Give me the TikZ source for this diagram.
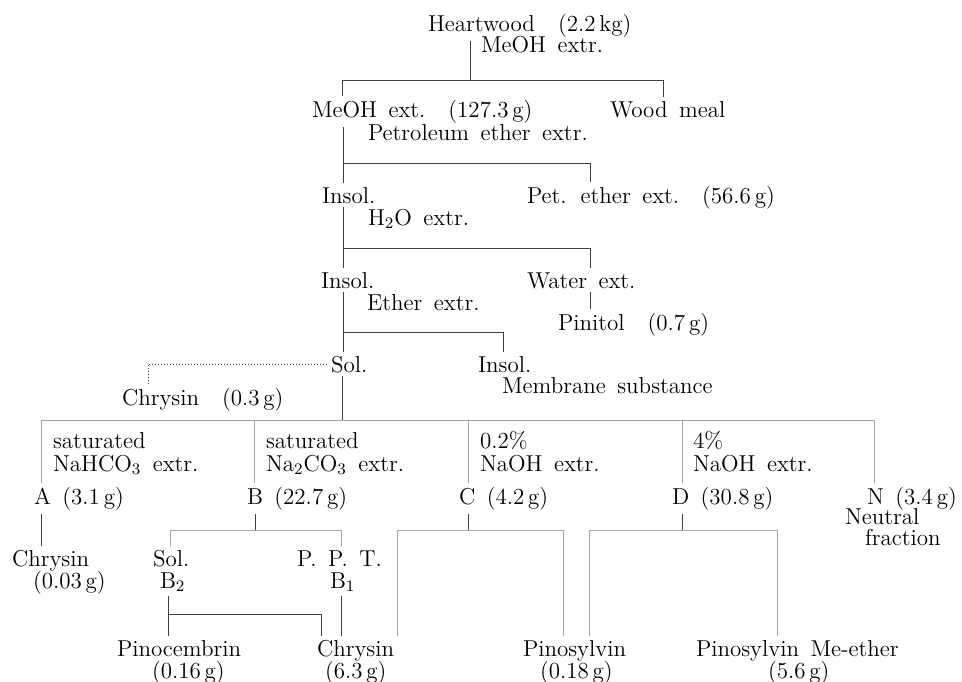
\documentclass[tikz,border=0pt]{standalone}
\newcommand{\txtfont}{\fontsize{11.5}{13}\selectfont\spaceskip=0.5em plus 0.1em\relax}
\begin{document}
\begin{tikzpicture}[x=0.5pt,y=-0.5pt,
  txt/.style={inner sep=0pt,outer sep=2pt,anchor=base west,xshift=-2pt,font=\txtfont},
  ln/.style={gray!50!black,line width=0.5pt},
  faint/.style={gray!70,line width=0.5pt}]
\useasboundingbox (0,0) rectangle (962,681);
% extraction steps
\node[txt] (heart) at (428,31) {Heartwood\enspace\ (2.2\,kg)};
\node[txt] (lmeoh) at (481,52) {MeOH extr.};
\node[txt] (meoh) at (312,117) {MeOH ext.\quad(127.3\,g)};
\node[txt] (wood) at (610,117) {Wood meal};
\node[txt] (lpet) at (368,140) {Petroleum ether extr.};
\node[txt] (insa) at (322,203) {Insol.};
\node[txt] (pet) at (527,203) {Pet. ether ext.\quad(56.6\,g)};
\node[txt] (lwat) at (368,225) {H$_2$O extr.};
\node[txt] (insb) at (321,288) {Insol.};
\node[txt] (wat) at (527,288) {Water ext.};
\node[txt] (leth) at (367,310) {Ether extr.};
\node[txt] (pin) at (558,330) {Pinitol\quad(0.7\,g)};
\node[txt] (sol) at (331,372) {Sol.};
\node[txt] (insc) at (478,372) {Insol.};
\node[txt] (memb) at (502,393) {Membrane substance};
\node[txt] (chra) at (122,405) {Chrysin\quad(0.3\,g)};
% fractions
\node[txt] (la1) at (53,448) {saturated};
\node[txt] (la2) at (53,471) {NaHCO$_3$ extr.};
\node[txt] (fa) at (34,504) {A\enspace(3.1\,g)};
\node[txt] (lb1) at (266,448) {saturated};
\node[txt] (lb2) at (266,471) {Na$_2$CO$_3$ extr.};
\node[txt] (fb) at (247,504) {B\enspace(22.7\,g)};
\node[txt] (lc1) at (480,448) {0.2\%};
\node[txt] (lc2) at (480,471) {NaOH extr.};
\node[txt] (fc) at (459,504) {C\enspace(4.2\,g)};
\node[txt] (ld1) at (693,448) {4\%};
\node[txt] (ld2) at (693,471) {NaOH extr.};
\node[txt] (fd) at (672,504) {D\enspace(30.8\,g)};
\node[txt] (fn) at (867,504) {N\enspace(3.4\,g)};
\node[txt] (neu1) at (845,524) {Neutral};
\node[txt] (neu2) at (865,545) {fraction};
% products
\node[txt] (chrb) at (12,566) {Chrysin};
\node[txt] (chrbw) at (33,588) {(0.03\,g)};
\node[txt] (solb) at (153,566) {Sol.};
\node[txt] (btwo) at (160,588) {B$_2$};
\node[txt] (ppt) at (297,566) {P. P. T.};
\node[txt] (bone) at (330,588) {B$_1$};
\node[txt] (pinoc) at (117,656) {Pinocembrin};
\node[txt] (pinocw) at (152,678) {(0.16\,g)};
\node[txt] (chrc) at (317,656) {Chrysin};
\node[txt] (chrcw) at (325,678) {(6.3\,g)};
\node[txt] (pino) at (523,656) {Pinosylvin};
\node[txt] (pinow) at (540,678) {(0.18\,g)};
\node[txt] (pme) at (696,656) {Pinosylvin Me-ether};
\node[txt] (pmew) at (768,678) {(5.6\,g)};
% junctions
\coordinate (j1) at (470,80); \coordinate (j1l) at (342,80); \coordinate (j1r) at (663,80);
\coordinate (j2) at (343,163); \coordinate (j2r) at (590,163);
\coordinate (j3) at (343,248); \coordinate (j3r) at (590,248);
\coordinate (j4) at (343,332); \coordinate (j4r) at (503,332);
\coordinate (dc) at (148,364);
\coordinate (j5) at (342,420);
\coordinate (jb) at (255,530); \coordinate (jbl) at (170,530); \coordinate (jbr) at (341,530);
\coordinate (jp) at (168,614); \coordinate (jq) at (321,614);
\coordinate (jc) at (468,530); \coordinate (jcl) at (397,530); \coordinate (jcr) at (563,530);
\coordinate (jd) at (682,530); \coordinate (jdl) at (589,530); \coordinate (jdr) at (777,530);
% upper tree
\draw[ln] (heart.south -| j1) -- (j1);
\draw[ln] (j1l |- meoh.north) -- (j1l) -- (j1r) -- (j1r |- wood.north);
\draw[ln] (meoh.south -| j2) -- (insa.north -| j2);
\draw[ln] (j2) -- (j2r) -- (j2r |- pet.north);
\draw[ln] (insa.south -| j3) -- (insb.north -| j3);
\draw[ln] (j3) -- (j3r) -- (j3r |- wat.north);
\draw[ln] (wat.south -| j3r) -- (pin.north -| j3r);
\draw[ln] (insb.south -| j4) -- (sol.north -| j4);
\draw[ln] (j4) -- (j4r) -- (j4r |- insc.north);
\draw[ln,densely dotted] (sol.west) -| (chra.north -| dc);
% fractionation
\draw[ln] (sol.south -| j5) -- (j5);
\foreach \n/\x in {fa/41,fb/254,fc/468,fd/682,fn/874}
  \coordinate (v\n) at (\x,420);
\draw[faint] (vfa) -- (vfn);
\foreach \n in {fa,fb,fc,fd,fn}
  \draw[faint] (v\n) -- (v\n |- \n.north);
\draw[ln] (fa.south -| vfa) -- (chrb.north -| vfa);
\draw[ln] (fb.south -| jb) -- (jb);
\draw[faint] (jbl |- solb.north) -- (jbl) -- (jbr) -- (jbr |- ppt.north);
\draw[ln] (btwo.south -| jp) -- (pinoc.north -| jp);
\draw[ln] (jp) -- (jq) -- (jq |- chrc.north);
\draw[ln] (bone.south -| jbr) -- (chrc.north -| jbr);
\draw[ln] (fc.south -| jc) -- (jc);
\draw[faint] (jcl |- chrc.north) -- (jcl) -- (jcr) -- (jcr |- pino.north);
\draw[ln] (fd.south -| jd) -- (jd);
\draw[faint] (jdl |- pino.north) -- (jdl) -- (jdr) -- (jdr |- pme.north);
\end{tikzpicture}
\end{document}
